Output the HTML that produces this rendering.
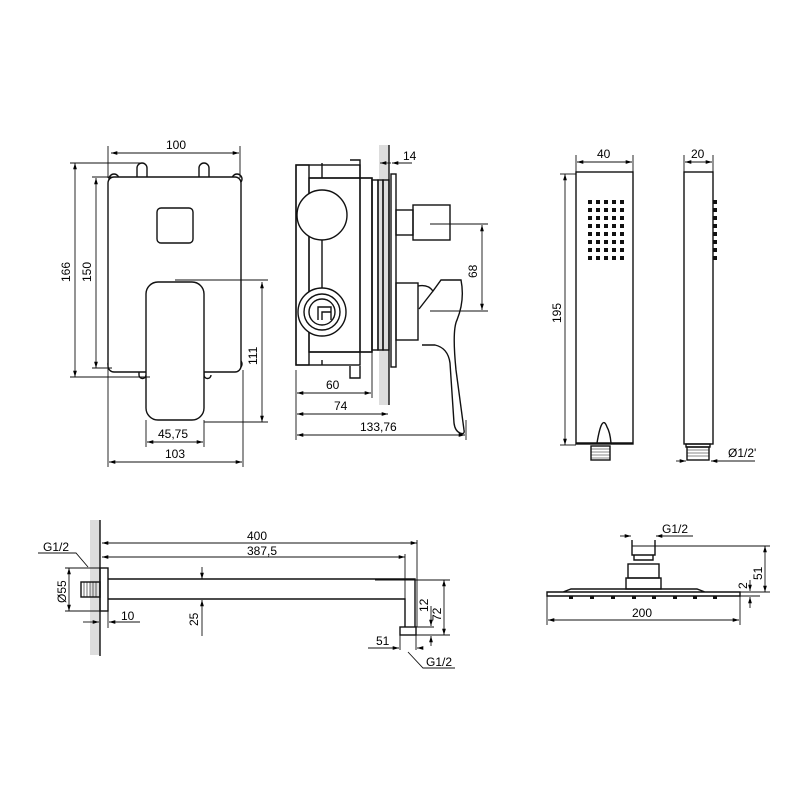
<!DOCTYPE html>
<html><head><meta charset="utf-8"><style>html,body{margin:0;padding:0;background:#fff}svg{display:block}text{font-family:"Liberation Sans",Arial,sans-serif;font-size:12px;fill:#000}</style></head><body>
<svg width="800" height="800" viewBox="0 0 800 800" xmlns="http://www.w3.org/2000/svg">
<defs>
<marker id="a" viewBox="0 0 10 10" refX="10" refY="5" markerWidth="7" markerHeight="7" orient="auto-start-reverse"><path d="M0,2L10,5L0,8z" fill="#000"/></marker>
</defs>
<g stroke="#111" stroke-width="1.4" fill="none">
<!-- Panel 1 front -->
<path d="M137,177v-9a5,5 0 0 1 10,0v9M199,177v-9a5,5 0 0 1 10,0v9"/>
<circle cx="114" cy="179" r="5"/><circle cx="237" cy="179" r="5"/><circle cx="113" cy="364" r="5"/><circle cx="237" cy="364" r="5"/>
<rect x="108" y="177" width="133" height="195" rx="6" fill="#fff"/>
<rect x="157" y="208" width="36" height="35" rx="4"/>
<path d="M139,372v3a3,3 0 0 0 7,0M204,372v3a3,3 0 0 0 7,0"/>
<rect x="146" y="282" width="58" height="138" rx="12" fill="#fff"/>
<g stroke-width="0.9">
<line x1="111" y1="153" x2="239" y2="153" marker-start="url(#a)" marker-end="url(#a)"/>
<line x1="108" y1="146" x2="108" y2="178"/><line x1="240" y1="146" x2="240" y2="178"/>
<line x1="75" y1="163" x2="75" y2="377" marker-start="url(#a)" marker-end="url(#a)"/>
<line x1="70" y1="163" x2="142" y2="163"/><line x1="70" y1="377" x2="150" y2="377"/>
<line x1="96" y1="178" x2="96" y2="368" marker-start="url(#a)" marker-end="url(#a)"/>
<line x1="92" y1="177" x2="112" y2="177"/><line x1="92" y1="368" x2="112" y2="368"/>
<line x1="262" y1="282" x2="262" y2="422" marker-start="url(#a)" marker-end="url(#a)"/>
<line x1="175" y1="280" x2="268" y2="280"/><line x1="204" y1="422" x2="268" y2="422"/>
<line x1="147" y1="442" x2="203" y2="442" marker-start="url(#a)" marker-end="url(#a)"/>
<line x1="146" y1="420" x2="146" y2="447"/><line x1="204" y1="420" x2="204" y2="447"/>
<line x1="109" y1="462" x2="242" y2="462" marker-start="url(#a)" marker-end="url(#a)"/>
<line x1="108" y1="368" x2="108" y2="467"/><line x1="243" y1="370" x2="243" y2="467"/>
</g>
<!-- Panel 2 side -->
<rect x="379" y="145" width="10" height="260" fill="#ddd" stroke="none"/>
<line x1="389" y1="145" x2="389" y2="405"/>
<rect x="296" y="165" width="64" height="200"/>
<rect x="296" y="165" width="13" height="200"/>
<path d="M309,178h51M309,352h51M322,178v-15M322,365v-5M350,160h10v18M350,366v12h10v-12"/>
<rect x="309" y="178" width="63" height="174"/>
<rect x="360" y="178" width="12" height="174"/>
<rect x="372" y="180" width="6" height="170"/><rect x="378" y="180" width="5" height="170"/><rect x="383" y="180" width="6" height="170"/>
<circle cx="322" cy="215" r="25" fill="#fff"/>
<circle cx="322" cy="312" r="24" fill="#fff"/><circle cx="322" cy="312" r="18"/><circle cx="322" cy="312" r="13"/>
<path d="M318,320v-13h13v13M322,320v-8h9"/>
<line x1="322" y1="240" x2="322" y2="288"/>
<rect x="391" y="174" width="5" height="193"/>
<rect x="396" y="210" width="17" height="25"/>
<rect x="413" y="205" width="37" height="35"/>
<rect x="396" y="283" width="22" height="57"/>
<path d="M418,286q10,-2 15,5l8,-11h20q4,20 -4,40 -5,10 -1,50 l8,60q1,5 -4,3 -5,-2 -6,-10l-4,-60q-2,-15 -15,-18 h-13 M433,291l-14,18"/>
<g stroke-width="0.9">
<line x1="391" y1="163" x2="380" y2="163" marker-end="url(#a)"/><line x1="412" y1="163" x2="392" y2="163" marker-end="url(#a)"/>
<line x1="296" y1="370" x2="296" y2="440"/><line x1="372" y1="352" x2="372" y2="398"/><line x1="466" y1="420" x2="466" y2="440"/>
<line x1="297" y1="393" x2="371" y2="393" marker-start="url(#a)" marker-end="url(#a)"/>
<line x1="297" y1="414" x2="388" y2="414" marker-start="url(#a)" marker-end="url(#a)"/>
<line x1="297" y1="435" x2="465" y2="435" marker-start="url(#a)" marker-end="url(#a)"/>
<line x1="482" y1="225" x2="482" y2="310" marker-start="url(#a)" marker-end="url(#a)"/>
<line x1="430" y1="224" x2="488" y2="224"/><line x1="430" y1="311" x2="488" y2="311"/>
</g>
<!-- Panel 3 hand shower -->
<rect x="576" y="172" width="57" height="272"/>
<line x1="576" y1="443" x2="633" y2="443"/>
<path d="M597,443q5,-30 10,-16q3,5 4,16"/>
<rect x="591" y="446" width="19" height="14"/>
<path d="M591,449h19M591,452h19M591,455h19M591,458h19" stroke-width="0.6"/>
<rect x="684" y="172" width="29" height="272"/>
<rect x="686" y="444" width="24" height="3"/>
<rect x="687" y="447" width="22" height="13"/>
<path d="M687,450h22M687,453h22M687,456h22" stroke-width="0.6"/>
<g stroke-width="0.9">
<line x1="577" y1="162" x2="632" y2="162" marker-start="url(#a)" marker-end="url(#a)"/>
<line x1="576" y1="155" x2="576" y2="172"/><line x1="633" y1="155" x2="633" y2="172"/>
<line x1="685" y1="162" x2="712" y2="162" marker-start="url(#a)" marker-end="url(#a)"/>
<line x1="684" y1="155" x2="684" y2="172"/><line x1="713" y1="155" x2="713" y2="172"/>
<line x1="565" y1="174" x2="565" y2="445" marker-start="url(#a)" marker-end="url(#a)"/>
<line x1="560" y1="174" x2="576" y2="174"/><line x1="560" y1="445" x2="576" y2="445"/>
<line x1="676" y1="461" x2="686" y2="461" marker-end="url(#a)"/>
<line x1="755" y1="461" x2="711" y2="461" marker-end="url(#a)"/>
</g>
<!-- Panel 4 arm -->
<rect x="90" y="520" width="10" height="135" fill="#ddd" stroke="none"/>
<line x1="100" y1="520" x2="100" y2="656"/>
<rect x="100" y="568" width="8" height="43"/>
<rect x="81" y="582" width="19" height="15"/>
<path d="M81,582v15M84,582v15M87,582v15M90,582v15M93,582v15M96,582v15" stroke-width="0.6"/>
<path d="M108,579H415V627M108,599H405V627"/>
<rect x="400" y="627" width="16" height="8"/>
<g stroke-width="0.9">
<line x1="102" y1="543" x2="417" y2="543" marker-start="url(#a)" marker-end="url(#a)"/>
<line x1="417" y1="540" x2="417" y2="627"/>
<line x1="102" y1="557" x2="405" y2="557" marker-start="url(#a)" marker-end="url(#a)"/>
<line x1="405" y1="554" x2="405" y2="627"/>
<line x1="69" y1="568" x2="69" y2="611" marker-start="url(#a)" marker-end="url(#a)"/>
<line x1="65" y1="568" x2="100" y2="568"/><line x1="65" y1="611" x2="100" y2="611"/>
<path d="M38,553h38l12,14"/>
<line x1="83" y1="622" x2="99" y2="622" marker-end="url(#a)"/><line x1="140" y1="622" x2="109" y2="622" marker-end="url(#a)"/>
<line x1="108" y1="611" x2="108" y2="628"/>
<line x1="202" y1="567" x2="202" y2="579" marker-end="url(#a)"/><line x1="202" y1="636" x2="202" y2="600" marker-end="url(#a)"/>
<line x1="375" y1="580" x2="450" y2="580"/>
<line x1="444" y1="580" x2="444" y2="635" marker-start="url(#a)" marker-end="url(#a)"/>
<line x1="416" y1="635" x2="450" y2="635"/>
<line x1="416" y1="627" x2="434" y2="627"/>
<line x1="431" y1="606" x2="431" y2="626" marker-end="url(#a)"/><line x1="431" y1="646" x2="431" y2="636" marker-end="url(#a)"/>
<line x1="368" y1="648" x2="399" y2="648" marker-end="url(#a)"/><line x1="422" y1="648" x2="417" y2="648" marker-end="url(#a)"/>
<line x1="400" y1="635" x2="400" y2="650"/><line x1="416" y1="635" x2="416" y2="650"/>
<path d="M408,652l15,16h32"/>
</g>
<!-- Panel 5 head shower -->
<path d="M632,540v15h23v-15M634,555v5h19v-5"/>
<rect x="628" y="564" width="31" height="14"/>
<rect x="626" y="578" width="35" height="11"/>
<path d="M547,592h193v4h-193zM563,592l8,-3h126l8,3M620,589h46"/>
<g fill="#111" stroke="none">
<rect x="569" y="596" width="4" height="3"/><rect x="590" y="596" width="4" height="3"/><rect x="611" y="596" width="4" height="3"/><rect x="632" y="596" width="4" height="3"/><rect x="652" y="596" width="4" height="3"/><rect x="673" y="596" width="4" height="3"/><rect x="693" y="596" width="4" height="3"/><rect x="713" y="596" width="4" height="3"/>
</g>
<g stroke-width="0.9">
<line x1="620" y1="536" x2="631" y2="536" marker-end="url(#a)"/><line x1="693" y1="536" x2="656" y2="536" marker-end="url(#a)"/>
<line x1="632" y1="546" x2="770" y2="546"/>
<line x1="765" y1="546" x2="765" y2="592" marker-start="url(#a)" marker-end="url(#a)"/>
<line x1="740" y1="592" x2="770" y2="592"/><line x1="740" y1="596" x2="760" y2="596"/>
<line x1="750" y1="580" x2="750" y2="591" marker-end="url(#a)"/><line x1="750" y1="608" x2="750" y2="597" marker-end="url(#a)"/>
<line x1="548" y1="620" x2="739" y2="620" marker-start="url(#a)" marker-end="url(#a)"/>
<line x1="547" y1="596" x2="547" y2="625"/><line x1="740" y1="596" x2="740" y2="625"/>
</g>
</g>
<g fill="#111">
<g id="r"><rect x="588" y="200" width="4" height="4"/><rect x="596" y="200" width="4" height="4"/><rect x="604" y="200" width="4" height="4"/><rect x="612" y="200" width="4" height="4"/><rect x="620" y="200" width="4" height="4"/></g>
<use href="#r" y="8"/><use href="#r" y="16"/><use href="#r" y="24"/><use href="#r" y="32"/><use href="#r" y="40"/><use href="#r" y="48"/><use href="#r" y="56"/>
<rect x="713" y="200" width="4" height="4"/><rect x="713" y="208" width="4" height="4"/><rect x="713" y="216" width="4" height="4"/><rect x="713" y="224" width="4" height="4"/><rect x="713" y="232" width="4" height="4"/><rect x="713" y="240" width="4" height="4"/><rect x="713" y="248" width="4" height="4"/><rect x="713" y="256" width="4" height="4"/>
</g>
<text x="166" y="149">100</text>
<text transform="translate(70,282) rotate(-90)">166</text>
<text transform="translate(91,282) rotate(-90)">150</text>
<text transform="translate(257,365) rotate(-90)">111</text>
<text x="158" y="438">45,75</text>
<text x="165" y="458">103</text>
<text x="403" y="160">14</text>
<text transform="translate(477,278) rotate(-90)">68</text>
<text x="326" y="389">60</text>
<text x="334" y="410">74</text>
<text x="360" y="431">133,76</text>
<text x="597" y="158">40</text>
<text x="691" y="158">20</text>
<text transform="translate(561,323) rotate(-90)">195</text>
<text x="728" y="457">Ø1/2'</text>
<text x="247" y="540">400</text>
<text x="247" y="555">387,5</text>
<text x="43" y="551">G1/2</text>
<text transform="translate(66,603) rotate(-90)">Ø55</text>
<text x="121" y="620">10</text>
<text transform="translate(198,626) rotate(-90)">25</text>
<text transform="translate(428,612) rotate(-90)">12</text>
<text transform="translate(441,621) rotate(-90)">72</text>
<text x="376" y="645">51</text>
<text x="426" y="666">G1/2</text>
<text x="662" y="533">G1/2</text>
<text transform="translate(762,580) rotate(-90)">51</text>
<text transform="translate(747,589) rotate(-90)">2</text>
<text x="632" y="617">200</text>
</svg>
</body></html>
